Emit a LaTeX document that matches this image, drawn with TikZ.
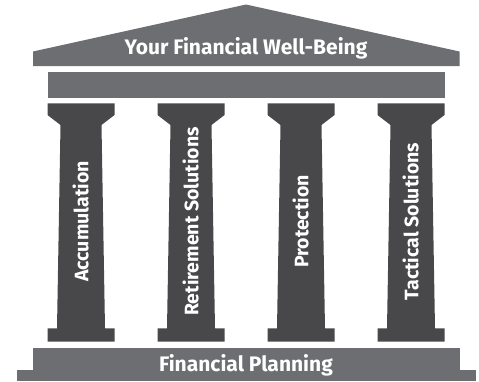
\documentclass[tikz,border=0pt]{standalone}
\usepackage{fontspec}
\setmainfont{Fira Sans}
\definecolor{roofgrey}{HTML}{6D6E71}
\definecolor{colgrey}{HTML}{48484A}
\begin{document}
\begin{tikzpicture}[x=1pt,y=-1pt,
  roofpart/.style={fill=roofgrey,draw=none},
  colpart/.style={fill=colgrey,draw=none},
  title/.style={text=white,font=\bfseries\fontsize{21}{23}\selectfont,inner sep=0pt,anchor=base},
  coltext/.style={text=white,font=\bfseries\fontsize{19.5}{21}\selectfont,inner sep=0pt,anchor=base,rotate=90}]
\useasboundingbox (0,0) rectangle (479,381);
% roof
\fill[roofpart] (33,66) -- (33,51.5) -- (246,4.5) -- (459.5,51.5) -- (459.5,66) -- cycle;
\node[title] (roof) at (246,54.5) {Your Financial Well-Being};
% beam
\fill[roofpart] (47.5,72) rectangle (445,98);
% columns
\foreach \cx/\nm/\lab in {81/c1/Accumulation,191/c2/Retirement Solutions,301/c3/Protection,411/c4/Tactical Solutions}{
  \fill[colpart] (\cx-33.5,103.3) -- (\cx+33.5,103.3) -- (\cx+33.5,115) -- (\cx+20.5,125)
     -- (\cx+24,328.3) -- (\cx+33.5,328.3) -- (\cx+33.5,341.7) -- (\cx-33.5,341.7)
     -- (\cx-33.5,328.3) -- (\cx-24,328.3) -- (\cx-20.5,125) -- (\cx-33.5,115) -- cycle;
  \node[coltext] (\nm) at (\cx+7.3,221.5) {\lab};
}
% base
\fill[roofpart] (33.3,348.3) rectangle (459.5,370) ;
\fill[roofpart] (16.7,369.5) rectangle (476,381);
\node[title] (base) at (246,371.5) {Financial Planning};
\end{tikzpicture}
\end{document}
